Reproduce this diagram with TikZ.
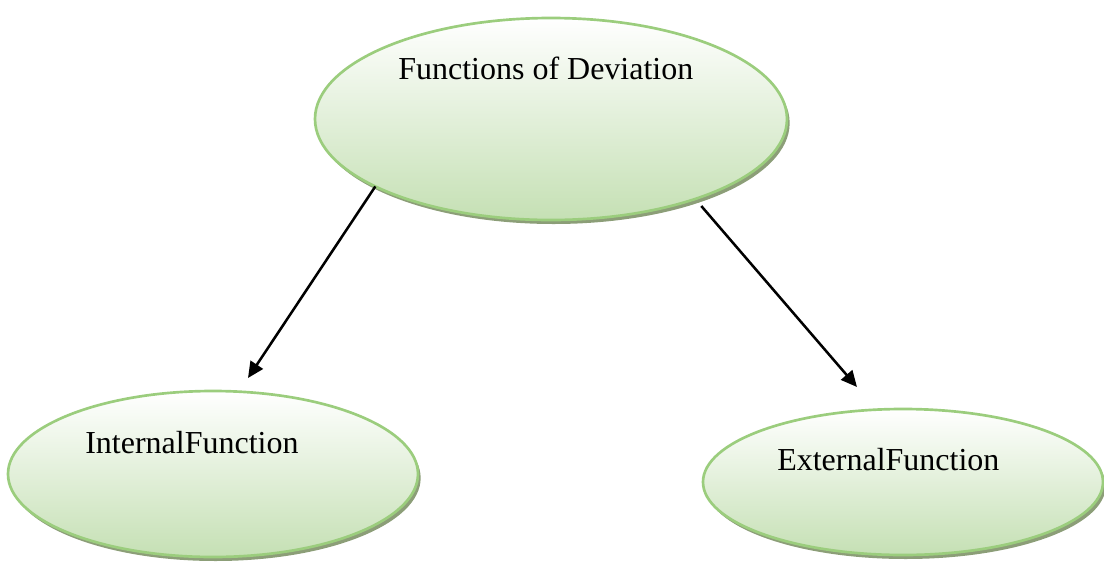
\documentclass[tikz,border=0pt]{standalone}
\usepackage{fontspec}
\setmainfont{Liberation Serif}
\usetikzlibrary{shapes.geometric,shadows,arrows.meta}
\definecolor{ebord}{RGB}{155,205,125}
\definecolor{efill}{RGB}{197,224,180}
\definecolor{eshad}{RGB}{140,158,120}
\tikzset{
  oval/.style={ellipse, draw=ebord, line width=2pt, inner sep=0pt, outer sep=0pt,
    top color=white, bottom color=efill,
    drop shadow={shadow xshift=2pt, shadow yshift=-3pt, fill=eshad, opacity=1}},
  lbl/.style={anchor=base west, inner sep=0pt, font=\fontsize{24pt}{28pt}\selectfont},
  conn/.style={line width=1.9pt, -{Triangle[length=12pt,width=11pt]}}
}
\begin{document}
\begin{tikzpicture}[x=0.75pt,y=-0.75pt]
\useasboundingbox (0,0) rectangle (1104,561);
\node[oval, minimum width=354pt, minimum height=151.5pt] (top) at (551,119) {};
\node[oval, minimum width=307.5pt, minimum height=124.5pt] (int) at (213,474) {};
\node[oval, minimum width=300pt, minimum height=109.5pt] (ext) at (903,482) {};
\node[lbl] (ttop) at (398,79) {Functions of Deviation};
\node[lbl] (tint) at (85,453) {InternalFunction};
\node[lbl] (text) at (777,470) {ExternalFunction};
\coordinate (lend) at (248,378);
\coordinate (rend) at (857,387);
\draw[conn] (top.201.5) -- (lend);
\draw[conn, shorten <=7pt] (top.-29.2) -- (rend);
\end{tikzpicture}
\end{document}
